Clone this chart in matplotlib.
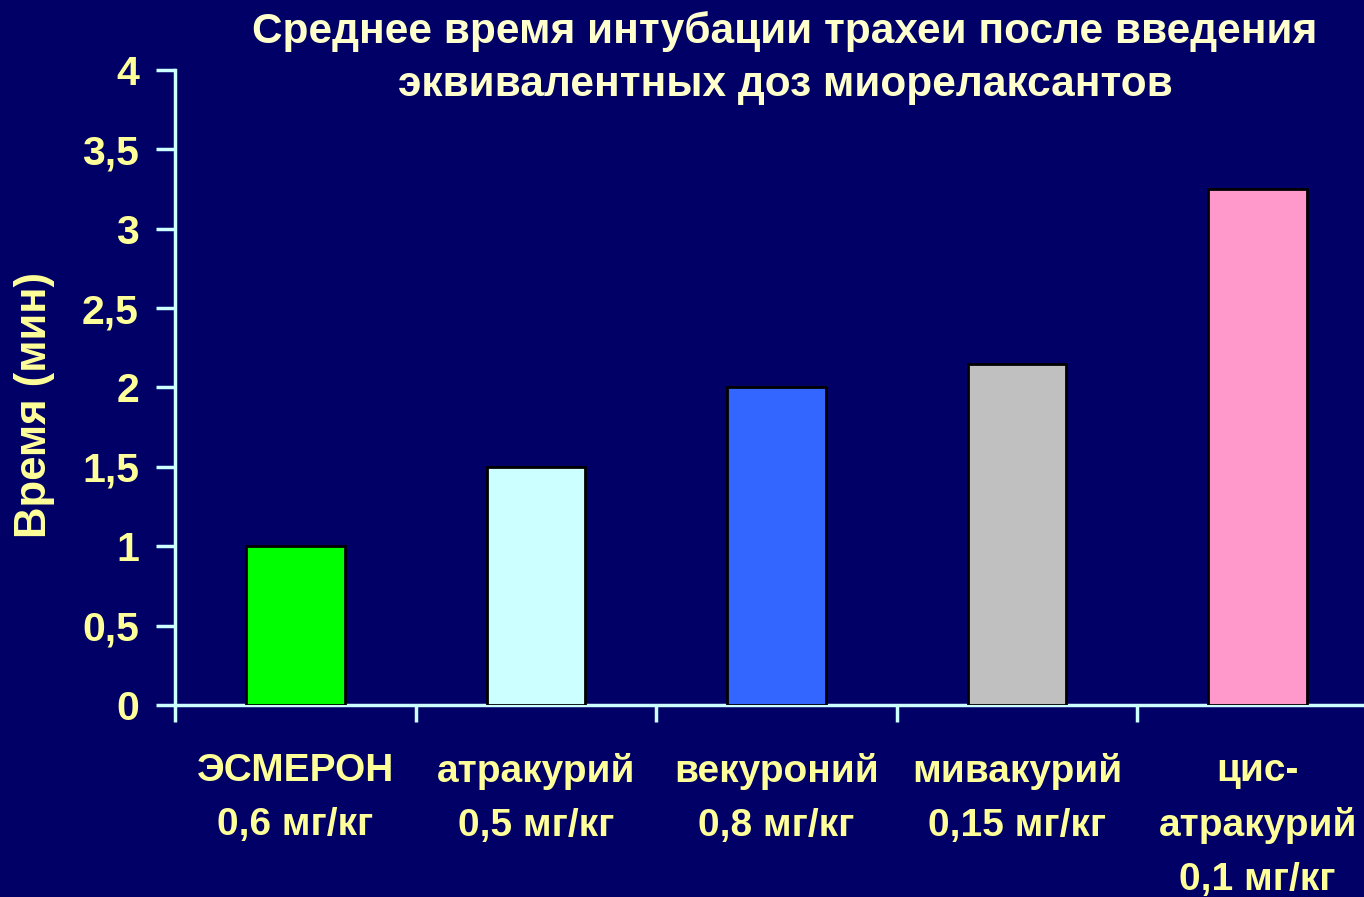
import matplotlib
matplotlib.use("Agg")
import matplotlib.pyplot as plt

categories = ["ЭСМЕРОН\n0,6 мг/кг", "атракурий\n0,5 мг/кг", "векуроний\n0,8 мг/кг",
              "мивакурий\n0,15 мг/кг", "цис-\nатракурий\n0,1 мг/кг"]
values = [1.0, 1.5, 2.0, 2.15, 3.25]
colors = ["#00FF00", "#CCFFFF", "#3366FF", "#C0C0C0", "#FF99CC"]
yticks = [0, 0.5, 1, 1.5, 2, 2.5, 3, 3.5, 4]
ytick_labels = ["0", "0,5", "1", "1,5", "2", "2,5", "3", "3,5", "4"]

bg = "#000066"
axis_col = "#CCFFFF"
text_col = "#FFFF99"

plt.rcParams['font.family'] = ['Liberation Sans', 'DejaVu Sans']
plt.rcParams['font.weight'] = 'bold'

fig = plt.figure(figsize=(13.64, 8.97), dpi=100, facecolor=bg)
ax = fig.add_axes([175 / 1364, 192 / 897, 1203 / 1364, 635 / 897], facecolor=bg)

x = range(len(values))
ax.bar(x, values, width=0.41, color=colors, edgecolor="black", linewidth=2, zorder=3)

ax.set_xlim(-0.5, len(values) - 0.5)
ax.set_ylim(0, 4)
ax.set_yticks(yticks)
ax.set_yticklabels(ytick_labels, fontsize=29.5, color=text_col, fontweight='bold')
ax.set_xticks([i - 0.5 for i in range(len(values) + 1)])
ax.set_xticklabels([])
ax.tick_params(axis='y', colors=axis_col, length=14, width=2.5, pad=12, labelcolor=text_col)
ax.tick_params(axis='x', colors=axis_col, length=12, width=2.5)

for s in ["top", "right"]:
    ax.spines[s].set_visible(False)
for s in ["left", "bottom"]:
    ax.spines[s].set_color(axis_col)
    ax.spines[s].set_linewidth(2.5)

for i, lab in enumerate(categories):
    ax.text(i, -0.3, lab, ha='center', va='top', fontsize=28, color=text_col,
            fontweight='bold', linespacing=1.64)

fig.text(785 / 1364, 1 - 58 / 897,
         "Среднее время интубации трахеи после введения\nэквивалентных доз миорелаксантов",
         ha='center', va='center', fontsize=30.5, color="#FFFFCC", fontweight='bold',
         linespacing=1.42)

fig.text(35 / 1364, 1 - 405 / 897, "Время (мин)", rotation=90, ha='center', va='center',
         fontsize=31.5, color=text_col, fontweight='bold')

fig.savefig("out.png", dpi=100, facecolor=bg)
